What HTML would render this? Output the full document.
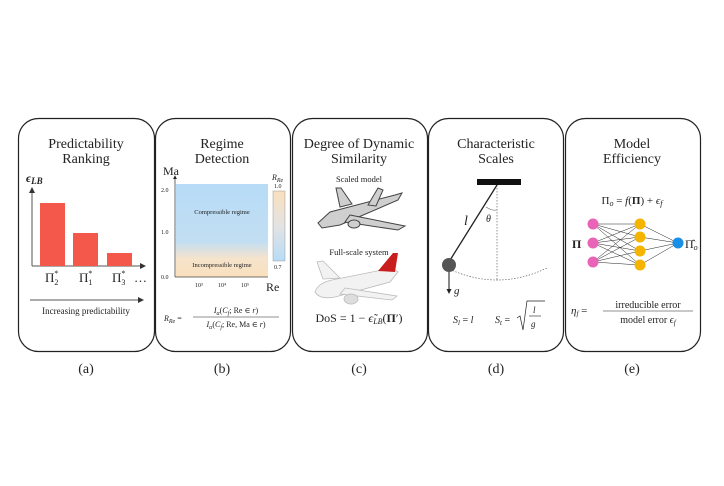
<!DOCTYPE html>
<html><head><meta charset="utf-8"><style>
html,body{margin:0;padding:0;background:#fff}
svg{display:block}
text{font-family:"Liberation Serif","DejaVu Serif",serif;fill:#222}
.t{font-size:14px;text-anchor:middle}
.i{font-style:italic}
</style></head><body>
<svg width="724" height="486" viewBox="0 0 724 486" xmlns="http://www.w3.org/2000/svg">
<defs>
<linearGradient id="rg" x1="0" y1="0" x2="0" y2="1">
<stop offset="0" stop-color="#b7dcf7"/><stop offset="0.62" stop-color="#c2def2"/><stop offset="0.8" stop-color="#f5e3cc"/><stop offset="1" stop-color="#fae0bd"/></linearGradient>
<linearGradient id="cb" x1="0" y1="0" x2="0" y2="1">
<stop offset="0" stop-color="#fae0bd"/><stop offset="0.5" stop-color="#e3e3e3"/><stop offset="1" stop-color="#b7dcf7"/></linearGradient>
<marker id="ar" markerWidth="6" markerHeight="6" refX="5" refY="3" orient="auto"><path d="M0,0 L6,3 L0,6z" fill="#333"/></marker>
<marker id="ar2" markerWidth="5" markerHeight="5" refX="4" refY="2.5" orient="auto"><path d="M0,0 L5,2.5 L0,5z" fill="#222"/></marker>
</defs>
<g fill="none" stroke="#222" stroke-width="1.2">
<rect x="18.5" y="118.5" width="136" height="233" rx="20"/>
<rect x="155.5" y="118.5" width="135" height="233" rx="20"/>
<rect x="292.5" y="118.5" width="135" height="233" rx="20"/>
<rect x="428.5" y="118.5" width="135" height="233" rx="20"/>
<rect x="565.5" y="118.5" width="135" height="233" rx="20"/>
</g>
<g class="t">
<text x="86" y="148" class="t">Predictability</text><text x="86" y="163" class="t">Ranking</text>
<text x="222" y="148" class="t">Regime</text><text x="222" y="163" class="t">Detection</text>
<text x="359" y="148" class="t">Degree of Dynamic</text><text x="359" y="163" class="t">Similarity</text>
<text x="496" y="148" class="t">Characteristic</text><text x="496" y="163" class="t">Scales</text>
<text x="632" y="148" class="t">Model</text><text x="632" y="163" class="t">Efficiency</text>
<text x="86" y="373" class="t">(a)</text><text x="222" y="373" class="t">(b)</text><text x="359" y="373" class="t">(c)</text><text x="496" y="373" class="t">(d)</text><text x="632" y="373" class="t">(e)</text>
</g>
<!-- a -->
<text x="26" y="182" font-size="12" class="i" font-weight="bold">ϵ<tspan font-size="9" dy="2">LB</tspan></text>
<line x1="32" y1="266" x2="32" y2="188" stroke="#555" marker-end="url(#ar)"/>
<line x1="32" y1="266" x2="145" y2="266" stroke="#555" marker-end="url(#ar)"/>
<rect x="40" y="203" width="25" height="63" fill="#f4584a"/>
<rect x="73" y="233" width="25" height="33" fill="#f4584a"/>
<rect x="107" y="253" width="25" height="13" fill="#f4584a"/>
<g font-size="13"><text x="45" y="282">Π<tspan font-size="8" dy="3">2</tspan><tspan font-size="8" dx="-4" dy="-9">*</tspan></text>
<text x="79" y="282">Π<tspan font-size="8" dy="3">1</tspan><tspan font-size="8" dx="-4" dy="-9">*</tspan></text>
<text x="112" y="282">Π<tspan font-size="8" dy="3">3</tspan><tspan font-size="8" dx="-4" dy="-9">*</tspan></text>
<text x="134" y="282">…</text></g>
<line x1="30" y1="300" x2="143" y2="300" stroke="#555" marker-end="url(#ar)"/>
<text x="86" y="314" font-size="9" text-anchor="middle">Increasing predictability</text>
<!-- b -->
<text x="163" y="175" font-size="12">Ma</text>
<rect x="176" y="184" width="92" height="93" fill="url(#rg)"/>
<line x1="175" y1="277" x2="175" y2="176" stroke="#444" stroke-width="0.8" marker-end="url(#ar2)"/>
<line x1="175" y1="277" x2="268" y2="277" stroke="#444" stroke-width="0.8"/>
<g font-size="6" fill="#333"><text x="161" y="192">2.0</text><text x="161" y="234">1.0</text><text x="161" y="279">0.0</text>
<text x="195" y="287">10³</text><text x="218" y="287">10⁴</text><text x="241" y="287">10⁵</text>
<text x="274" y="188">1.0</text><text x="274" y="269">0.7</text></g>
<text x="222" y="214" font-size="6.5" text-anchor="middle" fill="#778">Compressible regime</text>
<text x="222" y="267" font-size="6.5" text-anchor="middle" fill="#876">Incompressible regime</text>
<text x="272" y="180" font-size="8" class="i">R<tspan font-size="6" dy="2">Re</tspan></text>
<rect x="273" y="191" width="12" height="70" fill="url(#cb)" stroke="#999" stroke-width="0.5"/>
<text x="266" y="291" font-size="12">Re</text>
<g font-size="8"><text x="164" y="321" class="i">R<tspan font-size="6" dy="2">Re</tspan><tspan dy="-2" font-style="normal"> =</tspan></text>
<text x="236" y="313" text-anchor="middle"><tspan class="i">I</tspan><tspan font-size="6" class="i" dy="2">α</tspan><tspan dy="-2">(</tspan><tspan class="i">C</tspan><tspan font-size="6" class="i" dy="2">f</tspan><tspan dy="-2">; Re ∈ </tspan><tspan class="i">r</tspan>)</text>
<line x1="193" y1="317" x2="279" y2="317" stroke="#222" stroke-width="0.6"/>
<text x="236" y="327" text-anchor="middle"><tspan class="i">I</tspan><tspan font-size="6" class="i" dy="2">α</tspan><tspan dy="-2">(</tspan><tspan class="i">C</tspan><tspan font-size="6" class="i" dy="2">f</tspan><tspan dy="-2">; Re, Ma ∈ </tspan><tspan class="i">r</tspan>)</text></g>
<!-- c -->
<text x="359" y="182" font-size="8.5" text-anchor="middle">Scaled model</text>
<g stroke="#444" stroke-width="1" fill="#cfcfcf">
<path d="M318,223 L330,212 L395,195 L402,193 L398,200 L340,225 L322,228z"/>
<path d="M340,207 L336,188 L341,188 L352,204z"/>
<path d="M350,215 L405,226 L398,230 L345,222z"/>
<path d="M368,205 L378,188 L383,190 L376,206z"/>
<ellipse cx="354" cy="224" rx="6" ry="4"/>
</g>
<text x="359" y="255" font-size="8.5" text-anchor="middle">Full-scale system</text>
<g stroke="#bbb" stroke-width="0.8" fill="#f2f2f2">
<path d="M315,292 Q318,283 332,280 L392,268 L398,272 L390,282 L335,297 Q320,300 315,292z"/>
<path d="M323,279 L317,262 L323,261 L340,278z"/>
<path d="M345,288 L397,296 L392,300 L340,294z"/>
<ellipse cx="351" cy="299" rx="7" ry="5" fill="#ddd"/>
</g>
<path d="M378,271 L393,253 L398,253 L395,272z" fill="#c81e1e"/>
<text x="359" y="322" font-size="12" text-anchor="middle">DoS = 1 − <tspan class="i">ϵ̃</tspan><tspan font-size="8" class="i" dy="2">LB</tspan><tspan dy="-2">(</tspan><tspan font-weight="bold">Π</tspan>′)</text>
<!-- d -->
<rect x="477" y="179" width="44" height="6" fill="#111"/>
<line x1="497" y1="185" x2="497" y2="281" stroke="#666" stroke-width="0.7" stroke-dasharray="1.5,1.5"/>
<line x1="497" y1="185" x2="447" y2="265" stroke="#222" stroke-width="1.3"/>
<path d="M447,268 Q497,292 547,268" fill="none" stroke="#666" stroke-width="0.7" stroke-dasharray="1.5,1.5"/>
<path d="M486,207 Q492,211 497,210" fill="none" stroke="#666" stroke-width="0.6"/>
<circle cx="449" cy="265" r="7" fill="#555"/>
<line x1="449" y1="272" x2="449" y2="293" stroke="#111" stroke-width="1" marker-end="url(#ar2)"/>
<text x="454" y="294" font-size="11" class="i">g⃗</text>
<text x="464" y="225" font-size="14" class="i">l</text>
<text x="486" y="222" font-size="10" class="i">θ</text>
<g font-size="10"><text x="453" y="323" class="i">S<tspan font-size="7" dy="2">l</tspan><tspan dy="-2" font-style="normal"> = </tspan>l</text>
<text x="495" y="323" class="i">S<tspan font-size="7" dy="2">t</tspan><tspan dy="-2" font-style="normal"> = </tspan></text></g>
<path d="M517,318 L520,316 L523,330 L527,301 L545,301" fill="none" stroke="#222" stroke-width="0.7"/>
<text x="533" y="313" font-size="9" class="i">l</text><line x1="529" y1="316" x2="541" y2="316" stroke="#222" stroke-width="0.6"/>
<text x="531" y="327" font-size="9" class="i">g</text>
<!-- e -->
<text x="632" y="204" font-size="11" text-anchor="middle">Π<tspan font-size="8" dy="2" class="i">o</tspan><tspan dy="-2"> = </tspan><tspan class="i">f</tspan>(<tspan font-weight="bold">Π</tspan>) + <tspan class="i">ϵ</tspan><tspan font-size="8" dy="2" class="i">f</tspan></text>
<g stroke="#222" stroke-width="0.5">
<line x1="593" y1="224" x2="640" y2="224"/><line x1="593" y1="224" x2="640" y2="237"/><line x1="593" y1="224" x2="640" y2="251"/><line x1="593" y1="224" x2="640" y2="265"/>
<line x1="593" y1="243" x2="640" y2="224"/><line x1="593" y1="243" x2="640" y2="237"/><line x1="593" y1="243" x2="640" y2="251"/><line x1="593" y1="243" x2="640" y2="265"/>
<line x1="593" y1="262" x2="640" y2="224"/><line x1="593" y1="262" x2="640" y2="237"/><line x1="593" y1="262" x2="640" y2="251"/><line x1="593" y1="262" x2="640" y2="265"/>
<line x1="640" y1="224" x2="678" y2="243"/><line x1="640" y1="237" x2="678" y2="243"/><line x1="640" y1="251" x2="678" y2="243"/><line x1="640" y1="265" x2="678" y2="243"/>
</g>
<g fill="#e963b6"><circle cx="593" cy="224" r="5.5"/><circle cx="593" cy="243" r="5.5"/><circle cx="593" cy="262" r="5.5"/></g>
<g fill="#f5b400"><circle cx="640" cy="224" r="5.5"/><circle cx="640" cy="237" r="5.5"/><circle cx="640" cy="251" r="5.5"/><circle cx="640" cy="265" r="5.5"/></g>
<circle cx="678" cy="243" r="5.5" fill="#1a8fe8"/>
<text x="572" y="248" font-size="12" font-weight="bold">Π</text>
<text x="685" y="248" font-size="12">Π̂<tspan font-size="8" dy="2" class="i">o</tspan></text>
<text x="571" y="314" font-size="11" class="i">η<tspan font-size="7" dy="2">f</tspan><tspan dy="-2" font-style="normal"> =</tspan></text>
<text x="648" y="308" font-size="10" text-anchor="middle">irreducible error</text>
<line x1="603" y1="311" x2="693" y2="311" stroke="#222" stroke-width="0.6"/>
<text x="648" y="323" font-size="10" text-anchor="middle">model error <tspan class="i">ϵ</tspan><tspan font-size="7" dy="2" class="i">f</tspan></text>
</svg>
</body></html>
